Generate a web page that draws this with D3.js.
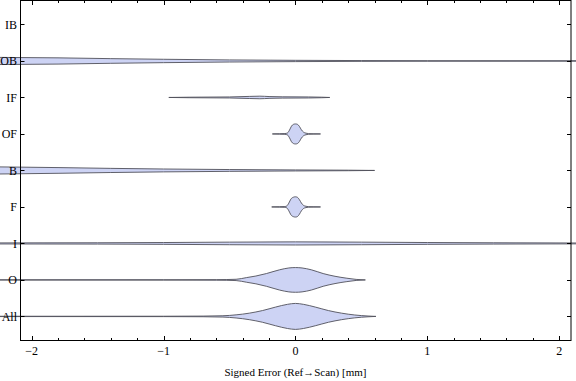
<!DOCTYPE html>
<html>
<head>
<meta charset="utf-8">
<script src="https://cdn.jsdelivr.net/npm/d3@7"></script>
<style>
  body { margin: 0; background: #fff; }
  svg { display: block; font-family: "Liberation Serif", "Times New Roman", serif; }
</style>
</head>
<body>
<script>
// categories top to bottom
const categories = ['IB', 'OB', 'IF', 'OF', 'B', 'F', 'I', 'O', 'All']

// density profiles: [signed error mm, relative density]
const profIB = []
const profOB = [[-2.3, 0.28], [-1.8, 0.24], [-1.4, 0.18], [-1.0, 0.13], [-0.5, 0.08], [0, 0.05], [0.5, 0.03], [1.0, 0.02], [2.3, 0.015]]
const profIF = [[-0.96, 0], [-0.8, 0.02], [-0.5, 0.04], [-0.35, 0.08], [-0.27, 0.1], [-0.2, 0.07], [-0.1, 0.05], [0.1, 0.04], [0.2, 0.02], [0.26, 0]]
const profOF = [[-0.175, 0], [-0.12, 0.015], [-0.08, 0.03], [-0.06, 0.08], [-0.045, 0.3], [-0.03, 0.6], [-0.015, 0.74], [0, 0.77], [0.015, 0.74], [0.03, 0.58], [0.045, 0.32], [0.06, 0.15], [0.08, 0.06], [0.1, 0.025], [0.14, 0.01], [0.19, 0]]
const profB = [[-2.3, 0.28], [-1.8, 0.22], [-1.4, 0.16], [-1.0, 0.11], [-0.5, 0.07], [0, 0.04], [0.4, 0.02], [0.6, 0]]
const profF = [[-0.18, 0], [-0.12, 0.015], [-0.08, 0.03], [-0.065, 0.08], [-0.05, 0.3], [-0.035, 0.6], [-0.015, 0.75], [0, 0.78], [0.015, 0.74], [0.03, 0.56], [0.045, 0.3], [0.06, 0.13], [0.08, 0.05], [0.1, 0.02], [0.14, 0.01], [0.19, 0]]
const profI = [[-2.3, 0.04], [-1.5, 0.05], [-1.0, 0.07], [-0.5, 0.1], [0, 0.12], [0.5, 0.1], [1.0, 0.07], [1.5, 0.05], [2.3, 0.03]]
const profO = [[-2.3, 0.01], [-1.0, 0.012], [-0.6, 0.02], [-0.45, 0.05], [-0.37, 0.18], [-0.3, 0.3], [-0.22, 0.49], [-0.12, 0.78], [-0.05, 0.92], [0, 0.95], [0.05, 0.92], [0.12, 0.78], [0.21, 0.49], [0.3, 0.28], [0.39, 0.13], [0.46, 0.04], [0.53, 0]]
const profAll = [[-2.3, 0.012], [-1.0, 0.015], [-0.7, 0.025], [-0.55, 0.05], [-0.45, 0.12], [-0.35, 0.25], [-0.25, 0.45], [-0.15, 0.72], [-0.06, 0.93], [0, 1.0], [0.06, 0.93], [0.15, 0.72], [0.25, 0.45], [0.35, 0.25], [0.45, 0.11], [0.55, 0.03], [0.61, 0]]

const profiles = [profIB, profOB, profIF, profOF, profB, profF, profI, profO, profAll]

// axis ticks
const majorTicks = [-2, -1, 0, 1, 2]
const minorTicks = d3.range(-2, 2.01, 0.2).map(v => Math.round(v * 10) / 10)

let width = 576
let height = 381
let frame = { left: 20.5, right: 571, top: 0.5, bottom: 340.5 }

const svg = d3.select('body')
  .append('svg')
  .attr('width', width)
  .attr('height', height)

const x = d3.scaleLinear()
  .domain([-2.0845, 2.089])
  .range([frame.left, frame.right])

const y = d3.scaleLinear()
  .domain([-0.657, categories.length - 1 + 0.66])
  .range([frame.top, frame.bottom])

const w = d3.scaleLinear()
  .domain([0, 1])
  .range([0, 13])

// violins
profiles.forEach((prof, i) => {
  if (!prof.length) return
  const cy = y(i)
  const area = d3.area()
    .x(d => x(d[0]))
    .y0(d => cy - w(d[1]))
    .y1(d => cy + w(d[1]))
    .curve(d3.curveMonotoneX)
  svg.append('path')
    .datum(prof)
    .attr('d', area)
    .style('fill', '#cdd3f4')
    .style('stroke', '#50505a')
    .style('stroke-width', 0.9)
})

// frame
svg.append('rect')
  .attr('x', frame.left)
  .attr('y', frame.top)
  .attr('width', frame.right - frame.left)
  .attr('height', frame.bottom - frame.top)
  .style('fill', 'none')
  .style('stroke', '#000')
  .style('stroke-width', 1)

// bottom + top ticks
const tickG = svg.append('g').style('stroke', '#000').style('stroke-width', 1)
minorTicks.forEach(v => {
  const major = majorTicks.includes(v)
  const len = major ? 4.5 : 2.5
  const px = Math.round(x(v)) + 0.5
  tickG.append('line').attr('x1', px).attr('x2', px).attr('y1', frame.bottom).attr('y2', frame.bottom - len)
  tickG.append('line').attr('x1', px).attr('x2', px).attr('y1', frame.top).attr('y2', frame.top + len)
})

// left + right ticks
categories.forEach((c, i) => {
  const py = Math.round(y(i)) + 0.5
  tickG.append('line').attr('x1', frame.left).attr('x2', frame.left + 4).attr('y1', py).attr('y2', py)
  tickG.append('line').attr('x1', frame.right).attr('x2', frame.right - 4).attr('y1', py).attr('y2', py)
})

// category labels
svg.selectAll('text.cat')
  .data(categories)
  .join('text')
  .attr('class', 'cat')
  .attr('x', 17)
  .attr('y', (d, i) => y(i))
  .attr('dy', '0.35em')
  .attr('text-anchor', 'end')
  .attr('font-size', '12px')
  .text(d => d)

// x tick labels
svg.selectAll('text.xt')
  .data(majorTicks)
  .join('text')
  .attr('class', 'xt')
  .attr('x', d => x(d))
  .attr('y', 354.5)
  .attr('text-anchor', 'middle')
  .attr('font-size', '12px')
  .text(d => d < 0 ? '\u2212' + Math.abs(d) : d)

// axis title
svg.append('text')
  .attr('x', x(0))
  .attr('y', 376)
  .attr('text-anchor', 'middle')
  .attr('font-size', '11px')
  .text('Signed Error (Ref\u2192Scan) [mm]')
</script>
</body>
</html>
